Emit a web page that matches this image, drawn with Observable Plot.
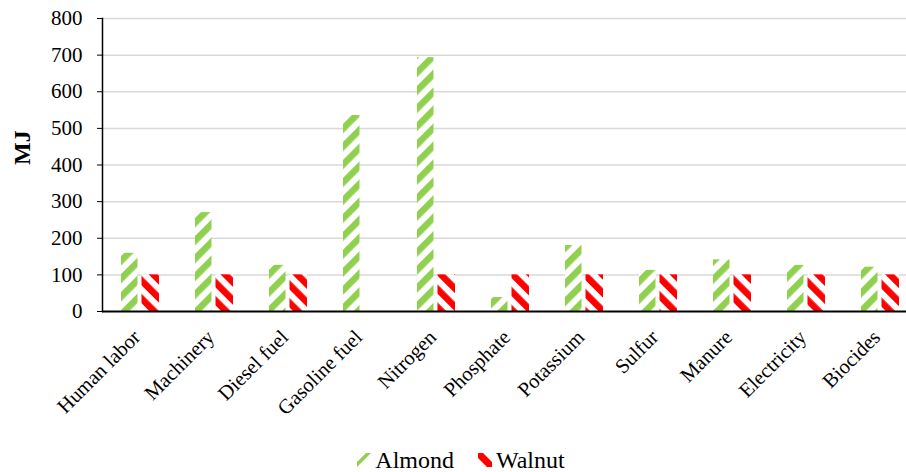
<!DOCTYPE html>
<html>
<head>
<meta charset="utf-8">
<script src="https://cdn.jsdelivr.net/npm/d3@7"></script>
<script src="https://cdn.jsdelivr.net/npm/@observablehq/plot@0.6"></script>
<style>
  body { margin: 0; background: #fff; }
  #chart svg { display: block; }
  #chart svg text { font-family: "Liberation Serif", "Times New Roman", serif !important; }
  #legend { display: flex; justify-content: center; align-items: center; height: 32px; padding-top: 4px; padding-left: 16px;
    font-family: "Liberation Serif", "Times New Roman", serif; font-size: 24px; color: #000; }
  #legend .item { display: flex; align-items: center; margin: 0 12px; }
  #legend svg { margin-right: 4px; }
</style>
</head>
<body>
<div id="chart"></div>
<div id="legend"></div>
<script>
const categories = ["Human labor", "Machinery", "Diesel fuel", "Gasoline fuel", "Nitrogen", "Phosphate", "Potassium", "Sulfur", "Manure", "Electricity", "Biocides"];
const almond = [159, 270, 126, 535, 693, 38, 180, 112, 141, 126, 121];
const walnut = [100, 100, 100, 0, 100, 100, 100, 100, 100, 100, 100];
const yTicks = [0, 100, 200, 300, 400, 500, 600, 700, 800];
const seriesNames = ["Almond", "Walnut"];
const seriesColors = ["#8fd14f", "#ff0000"];

const almondData = categories.map((c, i) => ({category: c, value: almond[i]}));
const walnutData = categories.map((c, i) => ({category: c, value: walnut[i]}));

const font = "'Liberation Serif', 'Times New Roman', serif";

const plot = Plot.plot({
  width: 906,
  height: 440,
  marginLeft: 102,
  marginRight: 0,
  marginTop: 18,
  marginBottom: 129,
  style: {fontFamily: font, background: "#fff", color: "#000"},
  x: {type: "band", domain: categories, range: [103, 917], padding: 0, axis: null},
  y: {domain: [0, 800], axis: null},
  marks: [
    Plot.ruleY(yTicks.filter(d => d > 0), {stroke: "#d9d9d9", strokeWidth: 1.5}),
    Plot.barY(almondData, {x: "category", y: "value", fill: "url(#pat-almond)", insetLeft: 18, insetRight: 39.5}),
    Plot.barY(walnutData, {x: "category", y: "value", fill: "url(#pat-walnut)", insetLeft: 38.5, insetRight: 18}),
    Plot.ruleY([0], {stroke: "#000", strokeWidth: 2}),
    Plot.frame({anchor: "left", stroke: "#000", strokeWidth: 1.5}),
    Plot.axisY({ticks: yTicks, tickSize: 5, tickPadding: 15, fontSize: 21, fontFamily: font, tickFormat: d => String(d), label: null, stroke: "#000"}),
    Plot.text(categories, {x: d => d, frameAnchor: "bottom", dy: 27, dx: 1, rotate: -45, textAnchor: "end", fontSize: 20.5, fontFamily: font, fill: "#000"}),
    Plot.text(["MJ"], {frameAnchor: "left", dx: -80.5, rotate: -90, fontSize: 24, fontWeight: "bold", fontFamily: font, fill: "#000"})
  ]
});

function addPatterns(svg) {
  const ns = "http://www.w3.org/2000/svg";
  let defs = svg.querySelector("defs");
  if (!defs) { defs = document.createElementNS(ns, "defs"); svg.insertBefore(defs, svg.firstChild); }
  const specs = [["pat-almond", seriesColors[0], 45], ["pat-walnut", seriesColors[1], -45]];
  for (const [id, color, angle] of specs) {
    const p = document.createElementNS(ns, "pattern");
    p.setAttribute("id", id);
    p.setAttribute("patternUnits", "userSpaceOnUse");
    p.setAttribute("width", "12.7");
    p.setAttribute("height", "12.7");
    p.setAttribute("patternTransform", `rotate(${angle})`);
    const bg = document.createElementNS(ns, "rect");
    bg.setAttribute("width", "12.7"); bg.setAttribute("height", "12.7"); bg.setAttribute("fill", "#fff");
    const r = document.createElementNS(ns, "rect");
    r.setAttribute("width", "6.6"); r.setAttribute("height", "12.7"); r.setAttribute("fill", color);
    p.appendChild(bg); p.appendChild(r);
    defs.appendChild(p);
  }
}
addPatterns(plot);
document.getElementById("chart").appendChild(plot);

// legend
const legend = document.getElementById("legend");
seriesNames.forEach((name, i) => {
  const item = document.createElement("div");
  item.className = "item";
  const sw = d3.create("svg").attr("width", 14).attr("height", 14);
  sw.append("rect").attr("width", 14).attr("height", 14).attr("fill", "#fff");
  if (i === 0) {
    sw.append("polygon").attr("points", "0,14 0,9 9,0 14,0").attr("fill", seriesColors[0]);
  } else {
    sw.append("polygon").attr("points", "0,0 5,0 14,9 14,14 9,14 0,5").attr("fill", seriesColors[1]);
  }
  item.appendChild(sw.node());
  const t = document.createElement("span");
  t.textContent = name;
  item.appendChild(t);
  legend.appendChild(item);
});
</script>
</body>
</html>
